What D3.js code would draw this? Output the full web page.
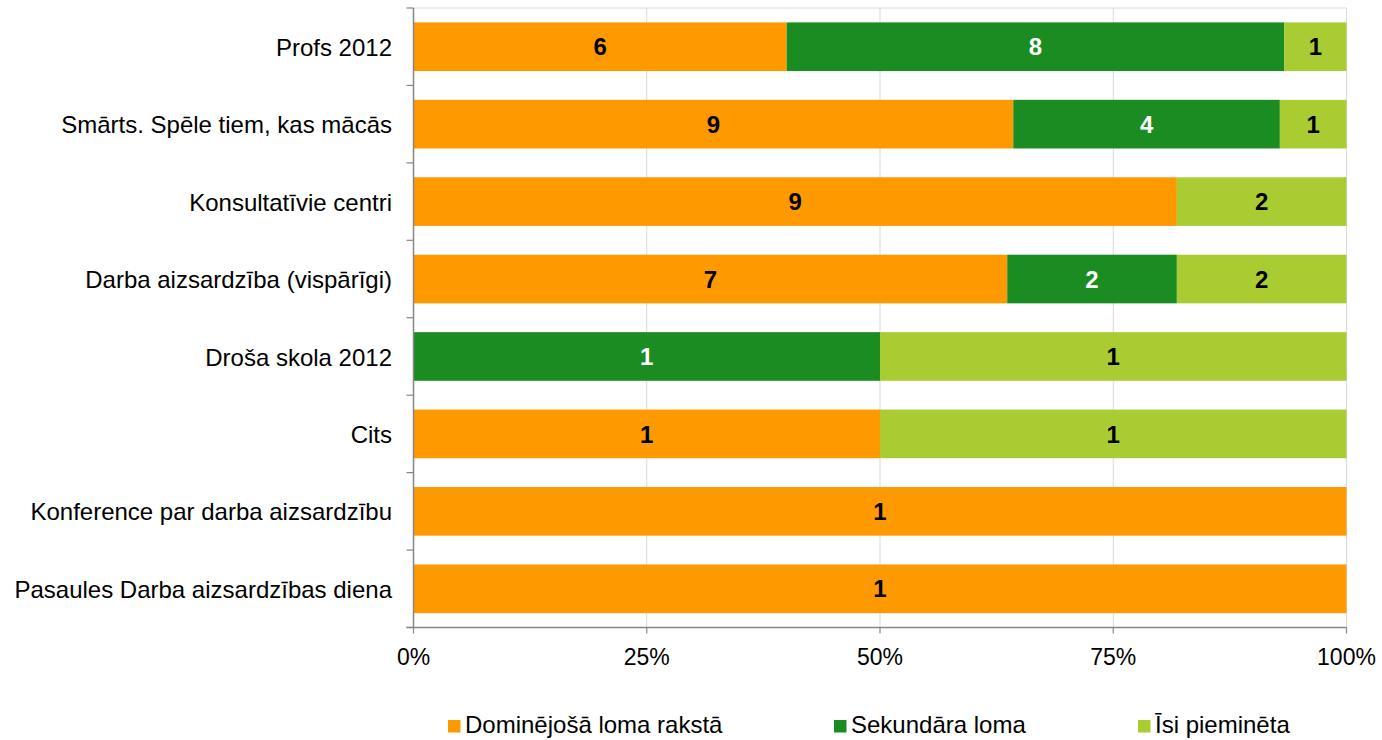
<!DOCTYPE html>
<html><head><meta charset="utf-8">
<script src="https://cdn.jsdelivr.net/npm/d3@7"></script>
<style>body{margin:0;background:#fff}svg{display:block;font-family:"Liberation Sans",Arial,sans-serif}</style>
</head><body><svg id="c" width="1382" height="740"></svg>
<script>
const categories = ["Profs 2012","Smārts. Spēle tiem, kas mācās","Konsultatīvie centri","Darba aizsardzība (vispārīgi)","Droša skola 2012","Cits","Konference par darba aizsardzību","Pasaules Darba aizsardzības diena"];
const seriesNames = ["Dominējošā loma rakstā","Sekundāra loma","Īsi pieminēta"];
const dominant = [6,9,9,7,0,1,1,1];
const secondary = [8,4,0,2,1,0,0,0];
const brief = [1,1,2,2,1,1,0,0];
const xTicks = [0,0.25,0.5,0.75,1];
const colors = ["#FF9900","#1A8C22","#A9CC33"];
const labelColors = ["#000","#fff","#000"];

const svg = d3.select("#c");
const L=413.5, R=1346.5, T=8, B=627.5;
const x = d3.scaleLinear().domain([0,1]).range([L,R]);
const y = d3.scaleBand().domain(categories).range([T,B]).paddingInner(0.372).paddingOuter(0.186);

const rows = categories.map((c,i)=>({cat:c, v:[dominant[i],secondary[i],brief[i]]}));

// gridlines
svg.append("g").selectAll("line").data(xTicks.slice(1)).join("line")
  .attr("x1",d=>x(d)).attr("x2",d=>x(d)).attr("y1",T).attr("y2",B)
  .attr("stroke","#d9d9d9").attr("stroke-width",1);
svg.append("line").attr("x1",L).attr("x2",R).attr("y1",T).attr("y2",T).attr("stroke","#d9d9d9");

// bars
rows.forEach(r=>{
  const tot = d3.sum(r.v);
  let acc=0;
  r.v.forEach((v,k)=>{
    if(!v){return;}
    const x0=x(acc/tot), x1=x((acc+v)/tot);
    svg.append("rect").attr("x",x0).attr("y",y(r.cat)).attr("width",x1-x0).attr("height",y.bandwidth()).attr("fill",colors[k]);
    svg.append("text").attr("x",(x0+x1)/2).attr("y",y(r.cat)+y.bandwidth()/2).attr("dy","0.36em")
      .attr("text-anchor","middle").attr("font-size",24).attr("font-weight","bold").attr("fill",labelColors[k]).text(v);
    acc+=v;
  });
});

// y axis
const ya = svg.append("g");
ya.append("line").attr("x1",L).attr("x2",L).attr("y1",T).attr("y2",B).attr("stroke","#868686").attr("stroke-width",1.5);
const bounds = d3.range(categories.length+1).map(i=>T+i*(B-T)/categories.length);
ya.selectAll("line.t").data(bounds).join("line").attr("class","t")
  .attr("x1",L-7).attr("x2",L).attr("y1",d=>d).attr("y2",d=>d).attr("stroke","#868686").attr("stroke-width",1.2);
ya.selectAll("text").data(categories).join("text")
  .attr("x",392).attr("y",d=>y(d)+y.bandwidth()/2).attr("dy","0.38em").attr("text-anchor","end")
  .attr("font-size",24).attr("fill","#000").text(d=>d);

// x axis
const xa = svg.append("g");
xa.append("line").attr("x1",L-7).attr("x2",R).attr("y1",B).attr("y2",B).attr("stroke","#868686").attr("stroke-width",1.5);
xa.selectAll("line.t").data(xTicks).join("line").attr("class","t")
  .attr("x1",d=>x(d)).attr("x2",d=>x(d)).attr("y1",B).attr("y2",B+6).attr("stroke","#868686").attr("stroke-width",1.2);
xa.selectAll("text").data(xTicks).join("text")
  .attr("x",d=>x(d)).attr("y",665).attr("text-anchor","middle").attr("font-size",23).attr("fill","#000")
  .text(d=>d3.format(".0%")(d));

// legend
const legX=[448,834,1138];
const lg = svg.append("g");
seriesNames.forEach((s,k)=>{
  lg.append("rect").attr("x",legX[k]).attr("y",720).attr("width",12.5).attr("height",12.5).attr("fill",colors[k]);
  lg.append("text").attr("x",legX[k]+17).attr("y",733).attr("font-size",24).attr("fill","#000").text(s);
});
</script></body></html>
